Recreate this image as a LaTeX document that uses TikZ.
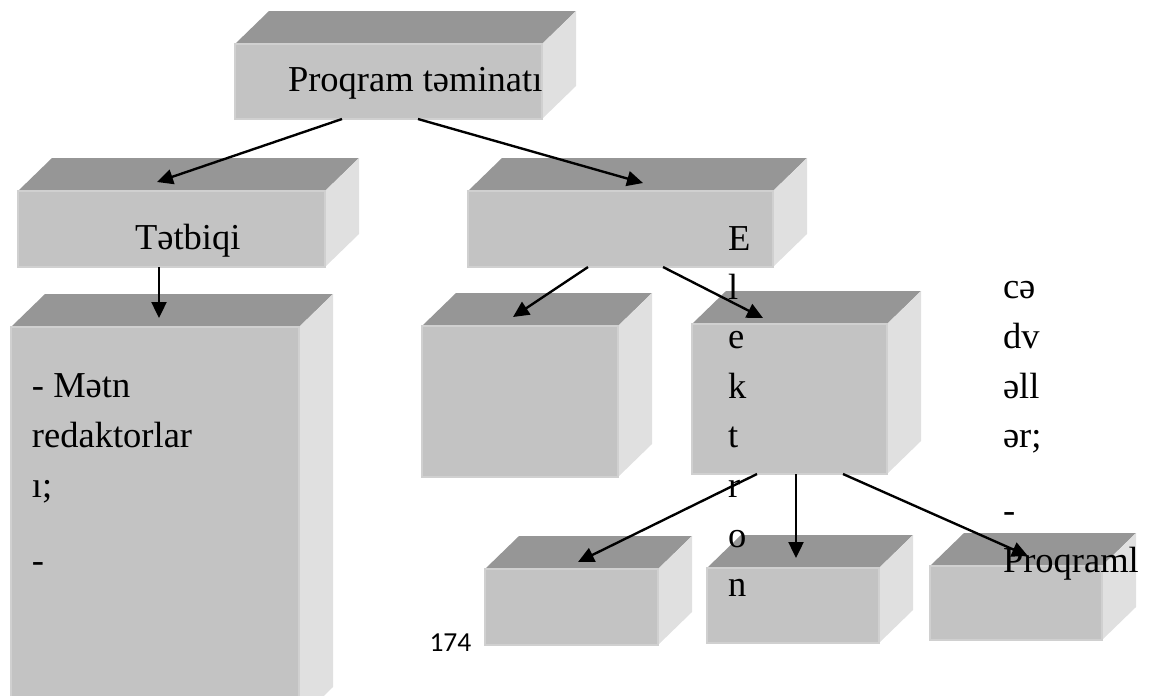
\documentclass[tikz,border=0pt]{standalone}
\usepackage{fontspec}
\setmainfont{Liberation Serif}
\newfontfamily\pagenumfont{Carlito}
\usetikzlibrary{arrows.meta,calc}
\definecolor{frontc}{RGB}{195,195,195}
\definecolor{topc}{RGB}{150,150,150}
\definecolor{sidec}{RGB}{224,224,224}
\definecolor{rimc}{RGB}{208,208,208}
\tikzset{
  frontface/.style={fill=frontc, draw=rimc, line width=0.6pt, inner sep=0pt, outer sep=0pt, anchor=north west},
  topface/.style={fill=topc},
  sideface/.style={fill=sidec},
  txt/.style={anchor=base west, inner sep=0pt, outer sep=0pt, font=\fontsize{14.6}{17}\selectfont},
  conn/.style={-{Triangle[length=6.4pt,width=6pt]}, line width=0.95pt, black},
}
% name, x1, y1, x2, y2 (pixel units, y downwards)
\newcommand\cuboid[5]{%
  \pgfmathsetmacro\cubw{(#4-#2)*0.4}%
  \pgfmathsetmacro\cubh{(#5-#3)*0.4}%
  \fill[topface] (#2,#3) -- (#2+34,#3-33) -- (#4+34,#3-33) -- (#4,#3) -- cycle;
  \fill[sideface] (#4,#3) -- (#4+34,#3-33) -- (#4+34,#5-33) -- (#4,#5) -- cycle;
  \node[frontface, minimum width=\cubw pt, minimum height=\cubh pt] (#1) at (#2,#3) {};
}
\begin{document}
\begin{tikzpicture}[x=0.4pt, y=-0.4pt]
\useasboundingbox (0,0) rectangle (1154,695);
% boxes
\cuboid{b1}{235}{44}{542}{119}
\cuboid{b2}{18}{191}{325}{267}
\cuboid{b3}{468}{191}{773}{267}
\cuboid{b6}{11}{327}{299}{720}
\cuboid{b4}{422}{326}{618}{477}
\cuboid{b5}{692}{324}{887}{474}
\cuboid{b7}{485}{569}{658}{645}
\cuboid{b8}{707}{568}{879}{643}
\cuboid{b9}{930}{566}{1102}{640}
% texts
\node[txt] (t1) at (288,91) {Proqram təminatı};
\node[txt] (t2) at (135,249) {Tətbiqi};
\node[txt] (l1) at (32,397) {- Mətn};
\node[txt] (l2) at (32,447) {redaktorlar};
\node[txt] (l3) at (32,497) {ı;};
\node[txt] (l4) at (32,572) {-};
\foreach \ch/\yy [count=\i] in {E/250, l/299, e/348, k/398, t/447, r/497, o/547, n/596}
  \node[txt] (v\i) at (728,\yy) {\ch};
\node[txt] (r1) at (1003,298) {cə};
\node[txt] (r2) at (1003,348) {dv};
\node[txt] (r3) at (1003,398) {əll};
\node[txt] (r4) at (1003,447) {ər;};
\node[txt] (r5) at (1003,522) {-};
\node[txt] (r6) at (1003,572) {Proqraml};
\node[anchor=base west, inner sep=0pt, font=\pagenumfont\fontsize{11}{13}\selectfont] (pg) at (429,651) {174};
% connectors
\draw[conn] ($(b1.south west)+(107,0)$) -- ($(b2.north west)+(139,-9)$);
\draw[conn] ($(b1.south west)+(183,0)$) -- ($(b3.north west)+(175,-8)$);
\draw[conn] ($(b2.south west)+(141,0)$) -- ($(b6.north west)+(148,-9)$);
\draw[conn] ($(b3.south west)+(120,0)$) -- ($(b4.north west)+(91,-9)$);
\draw[conn] ($(b3.south west)+(195,0)$) -- ($(b5.north west)+(71,-6)$);
\draw[conn] ($(b5.south west)+(65,0)$) -- ($(b7.north west)+(93,-7)$);
\draw[conn] ($(b5.south west)+(104,0)$) -- ($(b8.north west)+(89,-10)$);
\draw[conn] ($(b5.south west)+(151,0)$) -- ($(b9.north west)+(98,-10)$);
\end{tikzpicture}
\end{document}
